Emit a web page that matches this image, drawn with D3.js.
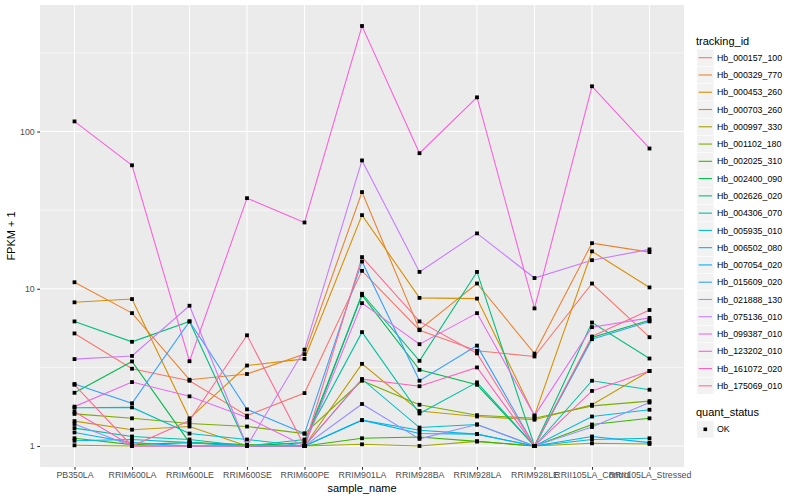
<!DOCTYPE html>
<html>
<head>
<meta charset="utf-8">
<script src="https://cdn.jsdelivr.net/npm/d3@7"></script>
<style>
  body { margin: 0; background: #fff; }
  svg { font-family: "Liberation Sans", Arial, sans-serif; }
</style>
</head>
<body>
<div id="chart"></div>
<script>
// samples on the x axis
var samples = ["PB350LA", "RRIM600LA", "RRIM600LE", "RRIM600SE", "RRIM600PE", "RRIM901LA",
  "RRIM928BA", "RRIM928LA", "RRIM928LE", "RRII105LA_Control", "RRII105LA_Stressed"];

var trackingIds = ["Hb_000157_100", "Hb_000329_770", "Hb_000453_260", "Hb_000703_260", "Hb_000997_330",
  "Hb_001102_180", "Hb_002025_310", "Hb_002400_090", "Hb_002626_020", "Hb_004306_070",
  "Hb_005935_010", "Hb_006502_080", "Hb_007054_020", "Hb_015609_020", "Hb_021888_130",
  "Hb_075136_010", "Hb_099387_010", "Hb_123202_010", "Hb_161072_020", "Hb_175069_010"];

// FPKM + 1, one value per sample
var hb_000157_100 = [5.2, 3.1, 2.6, 1.56, 2.17, 13.0, 5.45, 4.03, 3.71, 10.8, 4.92];
var hb_000329_770 = [11.0, 7.0, 2.64, 2.87, 3.84, 41.2, 5.5, 10.8, 3.87, 19.5, 17.1];
var hb_000453_260 = [8.2, 8.6, 1.5, 3.25, 3.58, 29.4, 8.75, 8.66, 1.56, 17.3, 10.2];
var hb_000703_260 = [1.44, 1.27, 1.33, 1.0, 1.0, 3.33, 1.67, 1.54, 1.47, 1.83, 3.0];
var hb_000997_330 = [1.01, 1.0, 1.0, 1.0, 1.0, 1.025, 1.0, 1.07, 1.0, 1.04, 1.03];
var hb_001102_180 = [1.6, 1.5, 1.39, 1.33, 1.2, 2.6, 1.83, 1.57, 1.5, 1.8, 1.93];
var hb_002025_310 = [1.12, 1.02, 1.05, 1.02, 1.0, 1.12, 1.14, 1.07, 1.0, 1.37, 1.5];
var hb_002400_090 = [2.18, 3.45, 1.05, 1.0, 1.05, 9.1, 3.05, 2.45, 1.0, 4.9, 6.3];
var hb_002626_020 = [6.2, 4.6, 6.2, 1.0, 1.0, 9.3, 3.48, 12.8, 1.0, 6.1, 3.6];
var hb_004306_070 = [1.3, 1.15, 1.1, 1.0, 1.1, 5.3, 1.61, 2.54, 1.0, 2.6, 2.28];
var hb_005935_010 = [1.75, 1.76, 1.2, 1.1, 1.0, 2.66, 1.31, 1.37, 1.0, 1.1, 1.12];
var hb_006502_080 = [1.08, 1.1, 1.05, 1.0, 1.0, 1.46, 1.26, 1.19, 1.0, 1.54, 1.7];
var hb_007054_020 = [1.22, 1.05, 1.0, 1.0, 1.0, 1.46, 1.2, 1.19, 1.0, 1.15, 1.05];
var hb_015609_020 = [2.48, 1.87, 6.2, 1.71, 1.2, 14.9, 2.6, 4.35, 1.0, 4.78, 6.2];
var hb_021888_130 = [1.38, 1.0, 1.0, 1.0, 1.0, 1.85, 1.11, 1.37, 1.0, 1.32, 1.89];
var hb_075136_010 = [3.57, 3.74, 7.8, 1.0, 4.1, 65.5, 12.8, 22.5, 11.7, 15.2, 17.8];
var hb_099387_010 = [1.78, 2.55, 2.07, 1.52, 1.0, 8.1, 4.44, 7.0, 1.56, 5.7, 6.53];
var hb_123202_010 = [116, 61, 3.46, 37.7, 26.4, 469, 72.8, 165, 7.5, 194, 78];
var hb_161072_020 = [1.65, 1.0, 1.0, 1.0, 1.0, 2.66, 2.4, 3.16, 1.0, 2.24, 3.0];
var hb_175069_010 = [2.45, 1.0, 1.45, 5.06, 1.0, 15.9, 6.2, 3.88, 1.0, 4.97, 7.33];

var seriesValues = [hb_000157_100, hb_000329_770, hb_000453_260, hb_000703_260, hb_000997_330,
  hb_001102_180, hb_002025_310, hb_002400_090, hb_002626_020, hb_004306_070,
  hb_005935_010, hb_006502_080, hb_007054_020, hb_015609_020, hb_021888_130,
  hb_075136_010, hb_099387_010, hb_123202_010, hb_161072_020, hb_175069_010];

var yTicks = [1, 10, 100];
var yMinor = [Math.pow(10, 0.5), Math.pow(10, 1.5), Math.pow(10, 2.5)];

// ggplot hue palette for 20 groups
var palette = ["#F8766D", "#EA8331", "#D89000", "#C09B00", "#A3A500", "#7CAE00", "#39B600", "#00BB4E",
  "#00BF7D", "#00C1A3", "#00BFC4", "#00BAE0", "#00B0F6", "#35A2FF", "#9590FF", "#C77CFF",
  "#E76BF3", "#FA62DB", "#FF62BC", "#FF6C91"];

var width = 800, height = 500;
var panelL = 40, panelR = 684, panelT = 5, panelB = 467;

var svg = d3.select("#chart").append("svg")
  .attr("width", width)
  .attr("height", height);

var x = d3.scalePoint()
  .domain(samples)
  .range([panelL, panelR])
  .padding(0.6);

var allVals = seriesValues.flat();
var lo = Math.log10(d3.min(allVals)), hi = Math.log10(d3.max(allVals));
var pad = (hi - lo) * 0.05;
var y = d3.scaleLog()
  .domain([Math.pow(10, lo - pad), Math.pow(10, hi + pad)])
  .range([panelB, panelT]);

var color = d3.scaleOrdinal().domain(trackingIds).range(palette);

// panel
svg.append("rect")
  .attr("x", panelL).attr("y", panelT)
  .attr("width", panelR - panelL).attr("height", panelB - panelT)
  .attr("fill", "#EBEBEB");

// grid
yMinor.forEach(function(t) {
  svg.append("line")
    .attr("x1", panelL).attr("x2", panelR)
    .attr("y1", y(t)).attr("y2", y(t))
    .attr("stroke", "white").attr("stroke-width", 0.55);
});
yTicks.forEach(function(t) {
  svg.append("line")
    .attr("x1", panelL).attr("x2", panelR)
    .attr("y1", y(t)).attr("y2", y(t))
    .attr("stroke", "white").attr("stroke-width", 1.1);
});
samples.forEach(function(s) {
  svg.append("line")
    .attr("x1", x(s)).attr("x2", x(s))
    .attr("y1", panelT).attr("y2", panelB)
    .attr("stroke", "white").attr("stroke-width", 1.1);
});

// lines
var line = d3.line()
  .x(function(d) { return x(d.sample); })
  .y(function(d) { return y(d.value); });

trackingIds.forEach(function(id, i) {
  var pts = samples.map(function(s, j) { return {sample: s, value: seriesValues[i][j]}; });
  svg.append("path")
    .datum(pts)
    .attr("d", line)
    .attr("fill", "none")
    .attr("stroke", color(id))
    .attr("stroke-width", 1.1);
});

// points
trackingIds.forEach(function(id, i) {
  samples.forEach(function(s, j) {
    svg.append("rect")
      .attr("x", x(s) - 1.9)
      .attr("y", y(seriesValues[i][j]) - 1.9)
      .attr("width", 3.8).attr("height", 3.8)
      .attr("fill", "black");
  });
});

// axes
var yAxis = svg.append("g")
  .attr("transform", "translate(" + panelL + ",0)")
  .call(d3.axisLeft(y).tickValues(yTicks).tickFormat(d3.format("d")).tickSize(2.75).tickPadding(2.5));
var xAxis = svg.append("g")
  .attr("transform", "translate(0," + panelB + ")")
  .call(d3.axisBottom(x).tickSize(2.75).tickPadding(2.5));

[xAxis, yAxis].forEach(function(a) {
  a.select(".domain").remove();
  a.selectAll(".tick line").attr("stroke", "#333333").attr("stroke-width", 1.1);
  a.selectAll(".tick text").attr("fill", "#4D4D4D").style("font-size", "8.8px")
    .style("font-family", "'Liberation Sans', Arial, sans-serif");
});

svg.append("text")
  .attr("x", (panelL + panelR) / 2).attr("y", 492)
  .attr("text-anchor", "middle")
  .style("font-size", "11px")
  .text("sample_name");

svg.append("text")
  .attr("transform", "translate(15," + (panelT + panelB) / 2 + ") rotate(-90)")
  .attr("text-anchor", "middle")
  .style("font-size", "11px")
  .text("FPKM + 1");

// legend: tracking_id
var lx = 697, ly0 = 57.7, step = 17.27;
svg.append("text")
  .attr("x", 696).attr("y", 44.5)
  .style("font-size", "11px")
  .text("tracking_id");

trackingIds.forEach(function(id, i) {
  var cy = ly0 + i * step;
  svg.append("rect")
    .attr("x", lx).attr("y", cy - 8.3)
    .attr("width", 16.6).attr("height", 16.6)
    .attr("fill", "#F2F2F2");
  svg.append("line")
    .attr("x1", lx + 1.6).attr("x2", lx + 15)
    .attr("y1", cy).attr("y2", cy)
    .attr("stroke", color(id)).attr("stroke-width", 1.1);
  svg.append("text")
    .attr("x", 717).attr("y", cy + 3.1)
    .style("font-size", "8.8px")
    .text(id);
});

// legend: quant_status
svg.append("text")
  .attr("x", 696).attr("y", 416)
  .style("font-size", "11px")
  .text("quant_status");
svg.append("rect")
  .attr("x", lx).attr("y", 429.3 - 8.3)
  .attr("width", 16.6).attr("height", 16.6)
  .attr("fill", "#F2F2F2");
svg.append("rect")
  .attr("x", lx + 8.3 - 1.8).attr("y", 429.3 - 1.8)
  .attr("width", 3.6).attr("height", 3.6)
  .attr("fill", "black");
svg.append("text")
  .attr("x", 717).attr("y", 432.4)
  .style("font-size", "8.8px")
  .text("OK");
</script>
</body>
</html>
